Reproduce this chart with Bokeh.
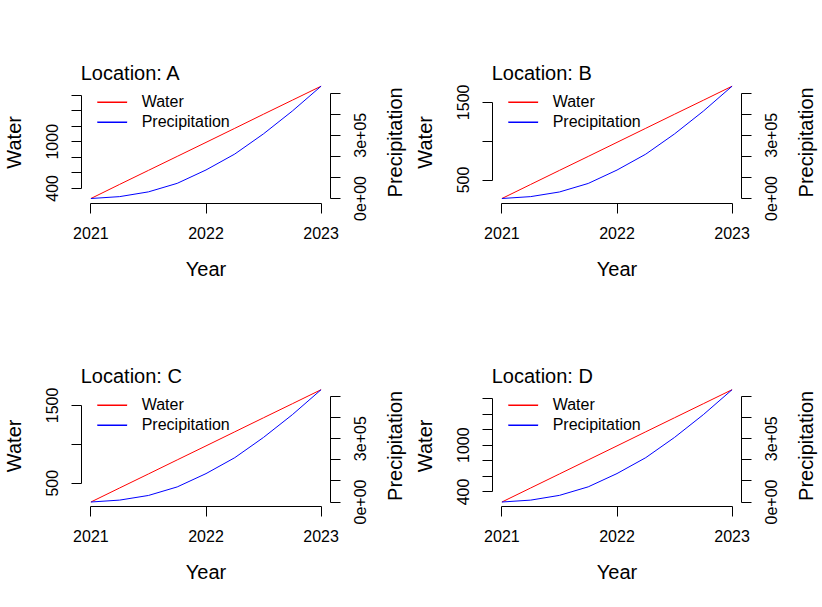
import math
from bokeh.plotting import figure
from bokeh.models import (LinearAxis, Range1d, FixedTicker, Label, Legend,
                          LegendItem, BoxAnnotation)
from bokeh.embed import file_html
from bokeh.resources import INLINE

# ---------------- data ----------------
years = [2021.0, 2021.25, 2021.5, 2021.75, 2022.0, 2022.25, 2022.5, 2022.75, 2023.0]

water_A = [270, 452, 632, 812, 992, 1173, 1355, 1535, 1715]
water_B = [262, 443, 624, 804, 985, 1166, 1347, 1527, 1708]
water_C = [258, 439, 619, 800, 980, 1161, 1342, 1522, 1703]
water_D = [271, 451, 631, 811, 991, 1172, 1352, 1532, 1712]

precip_A = [0, 9000, 31500, 72000, 135500, 211000, 307000, 415000, 533000]
precip_B = [0, 9000, 31000, 71500, 135000, 210500, 306500, 414500, 533000]
precip_C = [0, 9000, 31000, 71500, 134500, 210000, 306000, 413500, 532000]
precip_D = [0, 9000, 31500, 72000, 135000, 210500, 306500, 414500, 533000]

locations = ["A", "B", "C", "D"]
series_names = ["Water", "Precipitation"]
series_colors = ["#FF0000", "#0000FF"]

year_ticks = [2021, 2022, 2023]
year_tick_labels = ["2021", "2022", "2023"]

water_ticks_AD = [400, 600, 800, 1000, 1200, 1400, 1600]
water_tick_labels_AD = ["400", "", "", "1000", "", "", ""]
water_ticks_BC = [500, 1000, 1500]
water_tick_labels_BC = ["500", "", "1500"]

precip_ticks = [0, 100000, 200000, 300000, 400000, 500000]
precip_tick_labels = ["0e+00", "", "", "3e+05", "", ""]

# ---------------- layout (pixels) ----------------
W, H = 822, 607
CELL_W, CELL_H = 411, 303.5
MAR_L, MAR_R, MAR_T, MAR_B = 81.2, 81.2, 81.2, 101.0
FONT = "Liberation Sans"
SH20, SH16 = 8.0, 6.8   # baseline correction of Label text (20px / 16px)
LEG_X, LEG_W, LEG_ROW = 15.5, 30, 20


def pad(vals):
    lo, hi = min(vals), max(vals)
    r = hi - lo
    return lo - 0.04 * r, hi + 0.04 * r


def x_full(lo, hi, a, b):
    s = (hi - lo) / (b - a)
    start = lo - a * s
    return Range1d(start, start + W * s)


def y_full(lo, hi, top, bottom):
    s = (hi - lo) / (bottom - top)
    start = lo - (H - bottom) * s
    return Range1d(start, start + H * s)


p = figure(width=W, height=H, min_border=0,
           x_range=Range1d(0, 1), y_range=Range1d(0, 1),
           x_axis_type=None, y_axis_type=None,
           toolbar_location=None, output_backend="svg",
           title_location=None)
p.outline_line_color = None
p.background_fill_color = "white"
p.border_fill_color = "white"


def style_axis(ax):
    ax.axis_line_color = "black"
    ax.axis_line_width = 1
    ax.major_tick_line_color = "black"
    ax.major_tick_line_width = 1
    ax.major_tick_out = 10
    ax.major_tick_in = 0
    ax.minor_tick_out = 0
    ax.minor_tick_in = 0
    ax.major_label_text_color = None
    ax.major_label_text_alpha = 0


def txt(text, size, **kw):
    return Label(text=text, text_font=FONT, text_font_size=size,
                 text_color="black", **kw)


extra_x, extra_y = {}, {}
panels = [
    (locations[0], water_A, precip_A, water_ticks_AD, water_tick_labels_AD, 0, 0),
    (locations[1], water_B, precip_B, water_ticks_BC, water_tick_labels_BC, 1, 0),
    (locations[2], water_C, precip_C, water_ticks_BC, water_tick_labels_BC, 0, 1),
    (locations[3], water_D, precip_D, water_ticks_AD, water_tick_labels_AD, 1, 1),
]

for loc, water, precip, wticks, wlabels, col, row in panels:
    L = col * CELL_W + MAR_L
    R = (col + 1) * CELL_W - MAR_R
    T = row * CELL_H + MAR_T
    B = (row + 1) * CELL_H - MAR_B

    xlo, xhi = pad(years)
    wlo, whi = pad(water)
    plo, phi = pad(precip)
    xn, wn, pn = "x" + loc, "w" + loc, "p" + loc
    extra_x[xn] = x_full(xlo, xhi, L, R)
    extra_y[wn] = y_full(wlo, whi, T, B)
    extra_y[pn] = y_full(plo, phi, T, B)

    # axes (lines + ticks), R style
    xa = LinearAxis(x_range_name=xn, y_range_name=wn, fixed_location=wlo,
                    ticker=FixedTicker(ticks=year_ticks),
                    bounds=(year_ticks[0], year_ticks[-1]))
    style_axis(xa)
    p.add_layout(xa, "below")

    ya = LinearAxis(x_range_name=xn, y_range_name=wn, fixed_location=xlo,
                    ticker=FixedTicker(ticks=wticks),
                    bounds=(wticks[0], wticks[-1]))
    style_axis(ya)
    p.add_layout(ya, "left")

    ra = LinearAxis(x_range_name=xn, y_range_name=pn, fixed_location=xhi,
                    ticker=FixedTicker(ticks=precip_ticks),
                    bounds=(precip_ticks[0], precip_ticks[-1]))
    style_axis(ra)
    p.add_layout(ra, "right")

    # tick labels
    for t, s in zip(year_ticks, year_tick_labels):
        p.add_layout(txt(s, "16px", x=t, y=wlo, x_range_name=xn, y_range_name=wn,
                         y_offset=-36.3 + SH16, text_align="center",
                         text_baseline="alphabetic"))
    for t, s in zip(wticks, wlabels):
        if s:
            p.add_layout(txt(s, "16px", x=xlo, y=t, x_range_name=xn, y_range_name=wn,
                             x_offset=-23.4 - SH16, angle=math.pi / 2,
                             text_align="center", text_baseline="alphabetic"))
    for t, s in zip(precip_ticks, precip_tick_labels):
        if s:
            p.add_layout(txt(s, "16px", x=xhi, y=t, x_range_name=xn, y_range_name=pn,
                             x_offset=36.4 - SH16, angle=math.pi / 2,
                             text_align="center", text_baseline="alphabetic"))

    # axis titles and panel title
    p.add_layout(txt("Year", "20px", x=(xlo + xhi) / 2, y=wlo,
                     x_range_name=xn, y_range_name=wn, y_offset=-73.5 + SH20,
                     text_align="center", text_baseline="alphabetic"))
    p.add_layout(txt(series_names[0], "20px", x=xlo, y=(wlo + whi) / 2,
                     x_range_name=xn, y_range_name=wn, x_offset=-60 - SH20,
                     angle=math.pi / 2, text_align="center",
                     text_baseline="alphabetic"))
    p.add_layout(txt(series_names[1], "20px", x=xhi, y=(plo + phi) / 2,
                     x_range_name=xn, y_range_name=pn, x_offset=72.8 - SH20,
                     angle=math.pi / 2, text_align="center",
                     text_baseline="alphabetic"))
    p.add_layout(txt("Location: " + loc, "20px", x=xlo, y=whi,
                     x_range_name=xn, y_range_name=wn, x_offset=-1,
                     y_offset=1.2 + SH20,
                     text_align="left", text_baseline="alphabetic"))

    # series
    r1 = p.line(years, water, line_color=series_colors[0], line_width=1,
                x_range_name=xn, y_range_name=wn)
    r2 = p.line(years, precip, line_color=series_colors[1], line_width=1,
                x_range_name=xn, y_range_name=pn)

    box_top = round(T + 10.3 - 0.5) + 0.5
    legend = Legend(items=[LegendItem(label=series_names[0], renderers=[r1]),
                           LegendItem(label=series_names[1], renderers=[r2])],
                    location=(L + LEG_X, H - box_top - 2 * LEG_ROW),
                    glyph_width=LEG_W, glyph_height=LEG_ROW, label_height=LEG_ROW,
                    label_standoff=15, padding=0, margin=0, spacing=0,
                    border_line_color=None, background_fill_alpha=0,
                    label_text_font=FONT, label_text_font_size="16px",
                    label_text_color="black")
    p.add_layout(legend)

    # keep the legend's sample lines in the series colours
    for k, c in enumerate(series_colors):
        ly = box_top + LEG_ROW / 2 + k * LEG_ROW
        p.add_layout(BoxAnnotation(left=L + LEG_X, right=L + LEG_X + LEG_W,
                                   top=H - (ly - 0.5), bottom=H - (ly + 0.5),
                                   left_units="screen", right_units="screen",
                                   top_units="screen", bottom_units="screen",
                                   fill_color=c, fill_alpha=1,
                                   line_color=None))

p.extra_x_ranges = extra_x
p.extra_y_ranges = extra_y

open("out.html", "w").write(file_html(p, INLINE))
